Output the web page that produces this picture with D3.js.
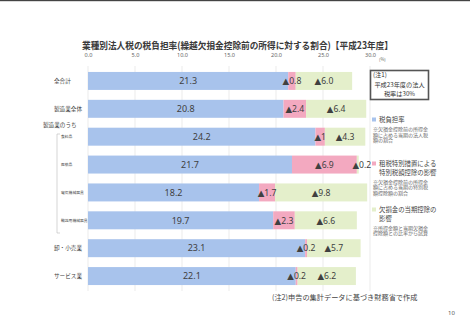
<!DOCTYPE html>
<html><head><meta charset="utf-8">
<script src="https://cdn.jsdelivr.net/npm/d3@7"></script>
<style>
html,body{margin:0;padding:0;background:#fff;}
svg{display:block;font-family:"Noto Sans CJK JP","Noto Sans",sans-serif;}
</style></head>
<body>
<svg id="c" width="470" height="332"></svg>
<script>
const categories = ["全合計","製造業全体","食料品","医薬品","電気機械器具","輸送用機械器具","卸・小売業","サービス業"];
const isSub = [false,false,true,true,true,true,false,false];
const burden = [21.3,20.8,24.2,21.7,18.2,19.7,23.1,22.1];
const special = [0.8,2.4,1,6.9,1.7,2.3,0.2,0.2];
const loss = [6.0,6.4,4.3,0.2,9.8,6.6,5.7,6.2];
const specialLabels = ["▲0.8","▲2.4","▲1","▲6.9","▲1.7","▲2.3","▲0.2","▲0.2"];
const lossLabels = ["▲6.0","▲6.4","▲4.3","▲0.2","▲9.8","▲6.6","▲5.7","▲6.2"];
const tickValues = [0,5,10,15,20,25,30];

const colors = {burden:"#a8c3ec", special:"#f3a9c0", loss:"#e4efcb"};

const svg = d3.select("#c");
svg.append("rect").attr("x",0).attr("y",0).attr("width",470).attr("height",1.2).attr("fill","#444");

const x = d3.scaleLinear().domain([0,30]).range([88,370]);
const y = d3.scaleBand().domain(categories).range([67,290]).paddingInner(0.355).paddingOuter(0.1775);

// title
svg.append("text").attr("x",82).attr("y",49)
  .attr("font-size",9.6).attr("font-weight","bold").attr("fill","#3a3a3a")
  .attr("textLength",311).attr("lengthAdjust","spacingAndGlyphs")
  .text("業種別法人税の税負担率(繰越欠損金控除前の所得に対する割合)【平成23年度】");

// grid
svg.append("g").selectAll("line").data(tickValues).join("line")
  .attr("x1",d=>x(d)).attr("x2",d=>x(d)).attr("y1",66).attr("y2",291)
  .attr("stroke","#e6e6e6").attr("stroke-width",0.8);

// axis
const axis = d3.axisTop(x).tickValues(tickValues).tickFormat(d3.format(".1f")).tickSize(0);
const ag = svg.append("g").attr("transform","translate(0,60)").call(axis);
ag.select(".domain").remove();
ag.selectAll("text").attr("font-size",5.6).attr("fill","#666").attr("font-family","'Noto Sans',sans-serif");
svg.append("text").attr("x",x(30)+9).attr("y",61).attr("font-size",4.2).attr("fill","#666").text("(%)");

// bars
const rows = categories.map((c,i)=>({c,i,b:burden[i],s:special[i],l:loss[i]}));
const g = svg.append("g");
g.selectAll("rect.b").data(rows).join("rect").attr("class","b")
  .attr("x",x(0)).attr("y",d=>y(d.c)).attr("width",d=>x(d.b)-x(0)).attr("height",y.bandwidth()).attr("fill",colors.burden);
g.selectAll("rect.s").data(rows).join("rect").attr("class","s")
  .attr("x",d=>x(d.b)).attr("y",d=>y(d.c)).attr("width",d=>x(d.b+d.s)-x(d.b)).attr("height",y.bandwidth()).attr("fill",colors.special);
g.selectAll("rect.l").data(rows).join("rect").attr("class","l")
  .attr("x",d=>x(d.b+d.s)).attr("y",d=>y(d.c)).attr("width",d=>x(d.b+d.s+d.l)-x(d.b+d.s)).attr("height",y.bandwidth()).attr("fill",colors.loss);

const lblFont = "'Noto Sans','DejaVu Sans',sans-serif";
g.selectAll("text.bv").data(rows).join("text").attr("class","bv")
  .attr("x",d=>x(d.b/2)).attr("y",d=>y(d.c)+y.bandwidth()/2+3.2)
  .attr("text-anchor","middle").attr("font-size",9).attr("fill","#404040").attr("font-family",lblFont)
  .text(d=>d.b.toFixed(1));
g.selectAll("text.sv").data(rows).join("text").attr("class","sv")
  .attr("x",d=>x(d.b+d.s/2)).attr("y",d=>y(d.c)+y.bandwidth()/2+3.2)
  .attr("text-anchor","middle").attr("font-size",8.6).attr("fill","#404040").attr("font-family",lblFont)
  .text(d=>specialLabels[d.i]);
g.selectAll("text.lv").data(rows).join("text").attr("class","lv")
  .attr("x",d=>x(d.b+d.s+d.l/2)+(d.l<1?4:0)).attr("y",d=>y(d.c)+y.bandwidth()/2+3.2)
  .attr("text-anchor","middle").attr("font-size",8.6).attr("fill","#404040").attr("font-family",lblFont)
  .text(d=>lossLabels[d.i]);

// category labels
svg.append("g").selectAll("text").data(rows).join("text")
  .attr("x",d=>isSub[d.i]?61:54).attr("y",d=>y(d.c)+y.bandwidth()/2+(isSub[d.i]?1.5:2))
  .attr("font-size",d=>isSub[d.i]?3.8:5.6).attr("fill","#444")
  .text(d=>d.c);
svg.append("text").attr("x",43).attr("y",127).attr("font-size",5.6).attr("fill","#444").text("製造業のうち");
svg.append("path").attr("d","M60,134 H57 V233 H60").attr("fill","none").attr("stroke","#bbb").attr("stroke-width",0.6);

// note box
svg.append("rect").attr("x",370.5).attr("y",70.5).attr("width",58).attr("height",29)
  .attr("fill","#fff").attr("stroke","#555").attr("stroke-width",1.6);
const nb = svg.append("g").attr("font-size",6.2).attr("fill","#333");
nb.append("text").attr("x",373).attr("y",77).text("(注1)");
nb.append("text").attr("x",399.5).attr("y",87).attr("text-anchor","middle").text("平成23年度の法人");
nb.append("text").attr("x",399.5).attr("y",96).attr("text-anchor","middle").text("税率は30%");

// legend
const legend = [
  {color:colors.burden, head:["税負担率"], note:["※欠損金控除前の所得金","額に占める当期の法人税","額の割合"], y:122},
  {color:colors.special, head:["租税特別措置による","特別税額控除の影響"], note:["※欠損金控除前の所得金","額に占める当期の特別税","額控除額の割合"], y:166},
  {color:colors.loss, head:["欠損金の当期控除の","影響"], note:["※所得金額と当期欠損金","控除額との比率から試算"], y:212}
];
const lg = svg.append("g");
legend.forEach(it=>{
  lg.append("rect").attr("x",372).attr("y",it.y-4.5).attr("width",4).attr("height",4).attr("fill",it.color);
  it.head.forEach((t,k)=>lg.append("text").attr("x",379).attr("y",it.y+k*8.5).attr("font-size",6.4).attr("fill","#444").text(t));
  const ny = it.y + (it.head.length-1)*8.5 + 9;
  it.note.forEach((t,k)=>lg.append("text").attr("x",373).attr("y",ny+k*5.6).attr("font-size",5).attr("fill","#666").text(t));
});

// footnote & page number
svg.append("text").attr("x",272).attr("y",299.5).attr("font-size",7.2).attr("fill","#444").text("(注2)申告の集計データに基づき財務省で作成");
svg.append("text").attr("x",448).attr("y",315).attr("font-size",6).attr("fill","#555").attr("font-family",lblFont).text("10");
</script>
</body></html>
